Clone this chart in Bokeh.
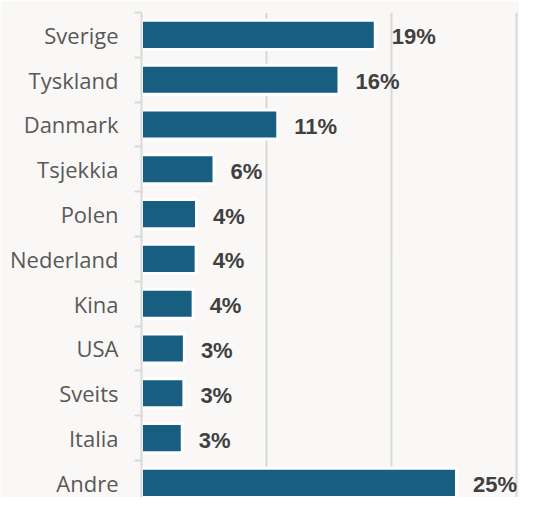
from bokeh.plotting import figure
from bokeh.models import Range1d, LinearAxis, FixedTicker, Grid, ColumnDataSource
from bokeh.core.properties import value
from bokeh.embed import file_html
from bokeh.resources import INLINE

countries = ["Sverige", "Tyskland", "Danmark", "Tsjekkia", "Polen", "Nederland",
             "Kina", "USA", "Sveits", "Italia", "Andre"]
shares = [18.7, 15.8, 10.9, 5.8, 4.40, 4.37, 4.13, 3.43, 3.39, 3.26, 25.2]
share_labels = ["19%", "16%", "11%", "6%", "4%", "4%", "4%", "3%", "3%", "3%", "25%"]

positions = list(range(len(countries)))
src = ColumnDataSource(dict(y=positions, v=shares, lab=share_labels))

BG = "#f9f8f6"
BAR = "#175e80"
GRID = "#d9d9d9"

p = figure(width=519, height=497, output_backend="svg", toolbar_location=None,
           x_axis_type=None, y_axis_type=None,
           x_range=Range1d(0, 30.24), y_range=Range1d(10.326, -0.5),
           min_border_left=141, min_border_right=0, min_border_top=12, min_border_bottom=0)
p.background_fill_color = BG
p.border_fill_color = BG
p.outline_line_color = None

grid = Grid(dimension=0, ticker=FixedTicker(ticks=[10, 20, 30]),
            grid_line_color=GRID, grid_line_width=2)
p.add_layout(grid)

p.hbar(y="y", left=0, right="v", height=0.65, source=src,
       fill_color=BAR, line_color="white", line_width=3)

p.text(x="v", y="y", text="lab", source=src, x_offset=16.5, y_offset=2,
       text_baseline="middle", text_align="left",
       text_font=value("Liberation Sans"), text_font_style="bold",
       text_font_size="22px", text_color="#404040")

yaxis = LinearAxis(ticker=FixedTicker(ticks=positions,
                                      minor_ticks=[i - 0.5 for i in range(len(countries) + 1)]))
yaxis.major_label_overrides = {i: c for i, c in enumerate(countries)}
yaxis.major_tick_line_color = None
yaxis.major_tick_out = 0
yaxis.major_tick_in = 0
yaxis.minor_tick_out = 7
yaxis.minor_tick_in = 0
yaxis.minor_tick_line_color = GRID
yaxis.minor_tick_line_width = 2
yaxis.axis_line_color = GRID
yaxis.axis_line_width = 2
yaxis.major_label_standoff = 16
yaxis.major_label_text_font = "Open Sans"
yaxis.major_label_text_font_size = "22px"
yaxis.major_label_text_color = "#595959"
p.add_layout(yaxis, "left")

open("out.html", "w").write(file_html(p, INLINE))
